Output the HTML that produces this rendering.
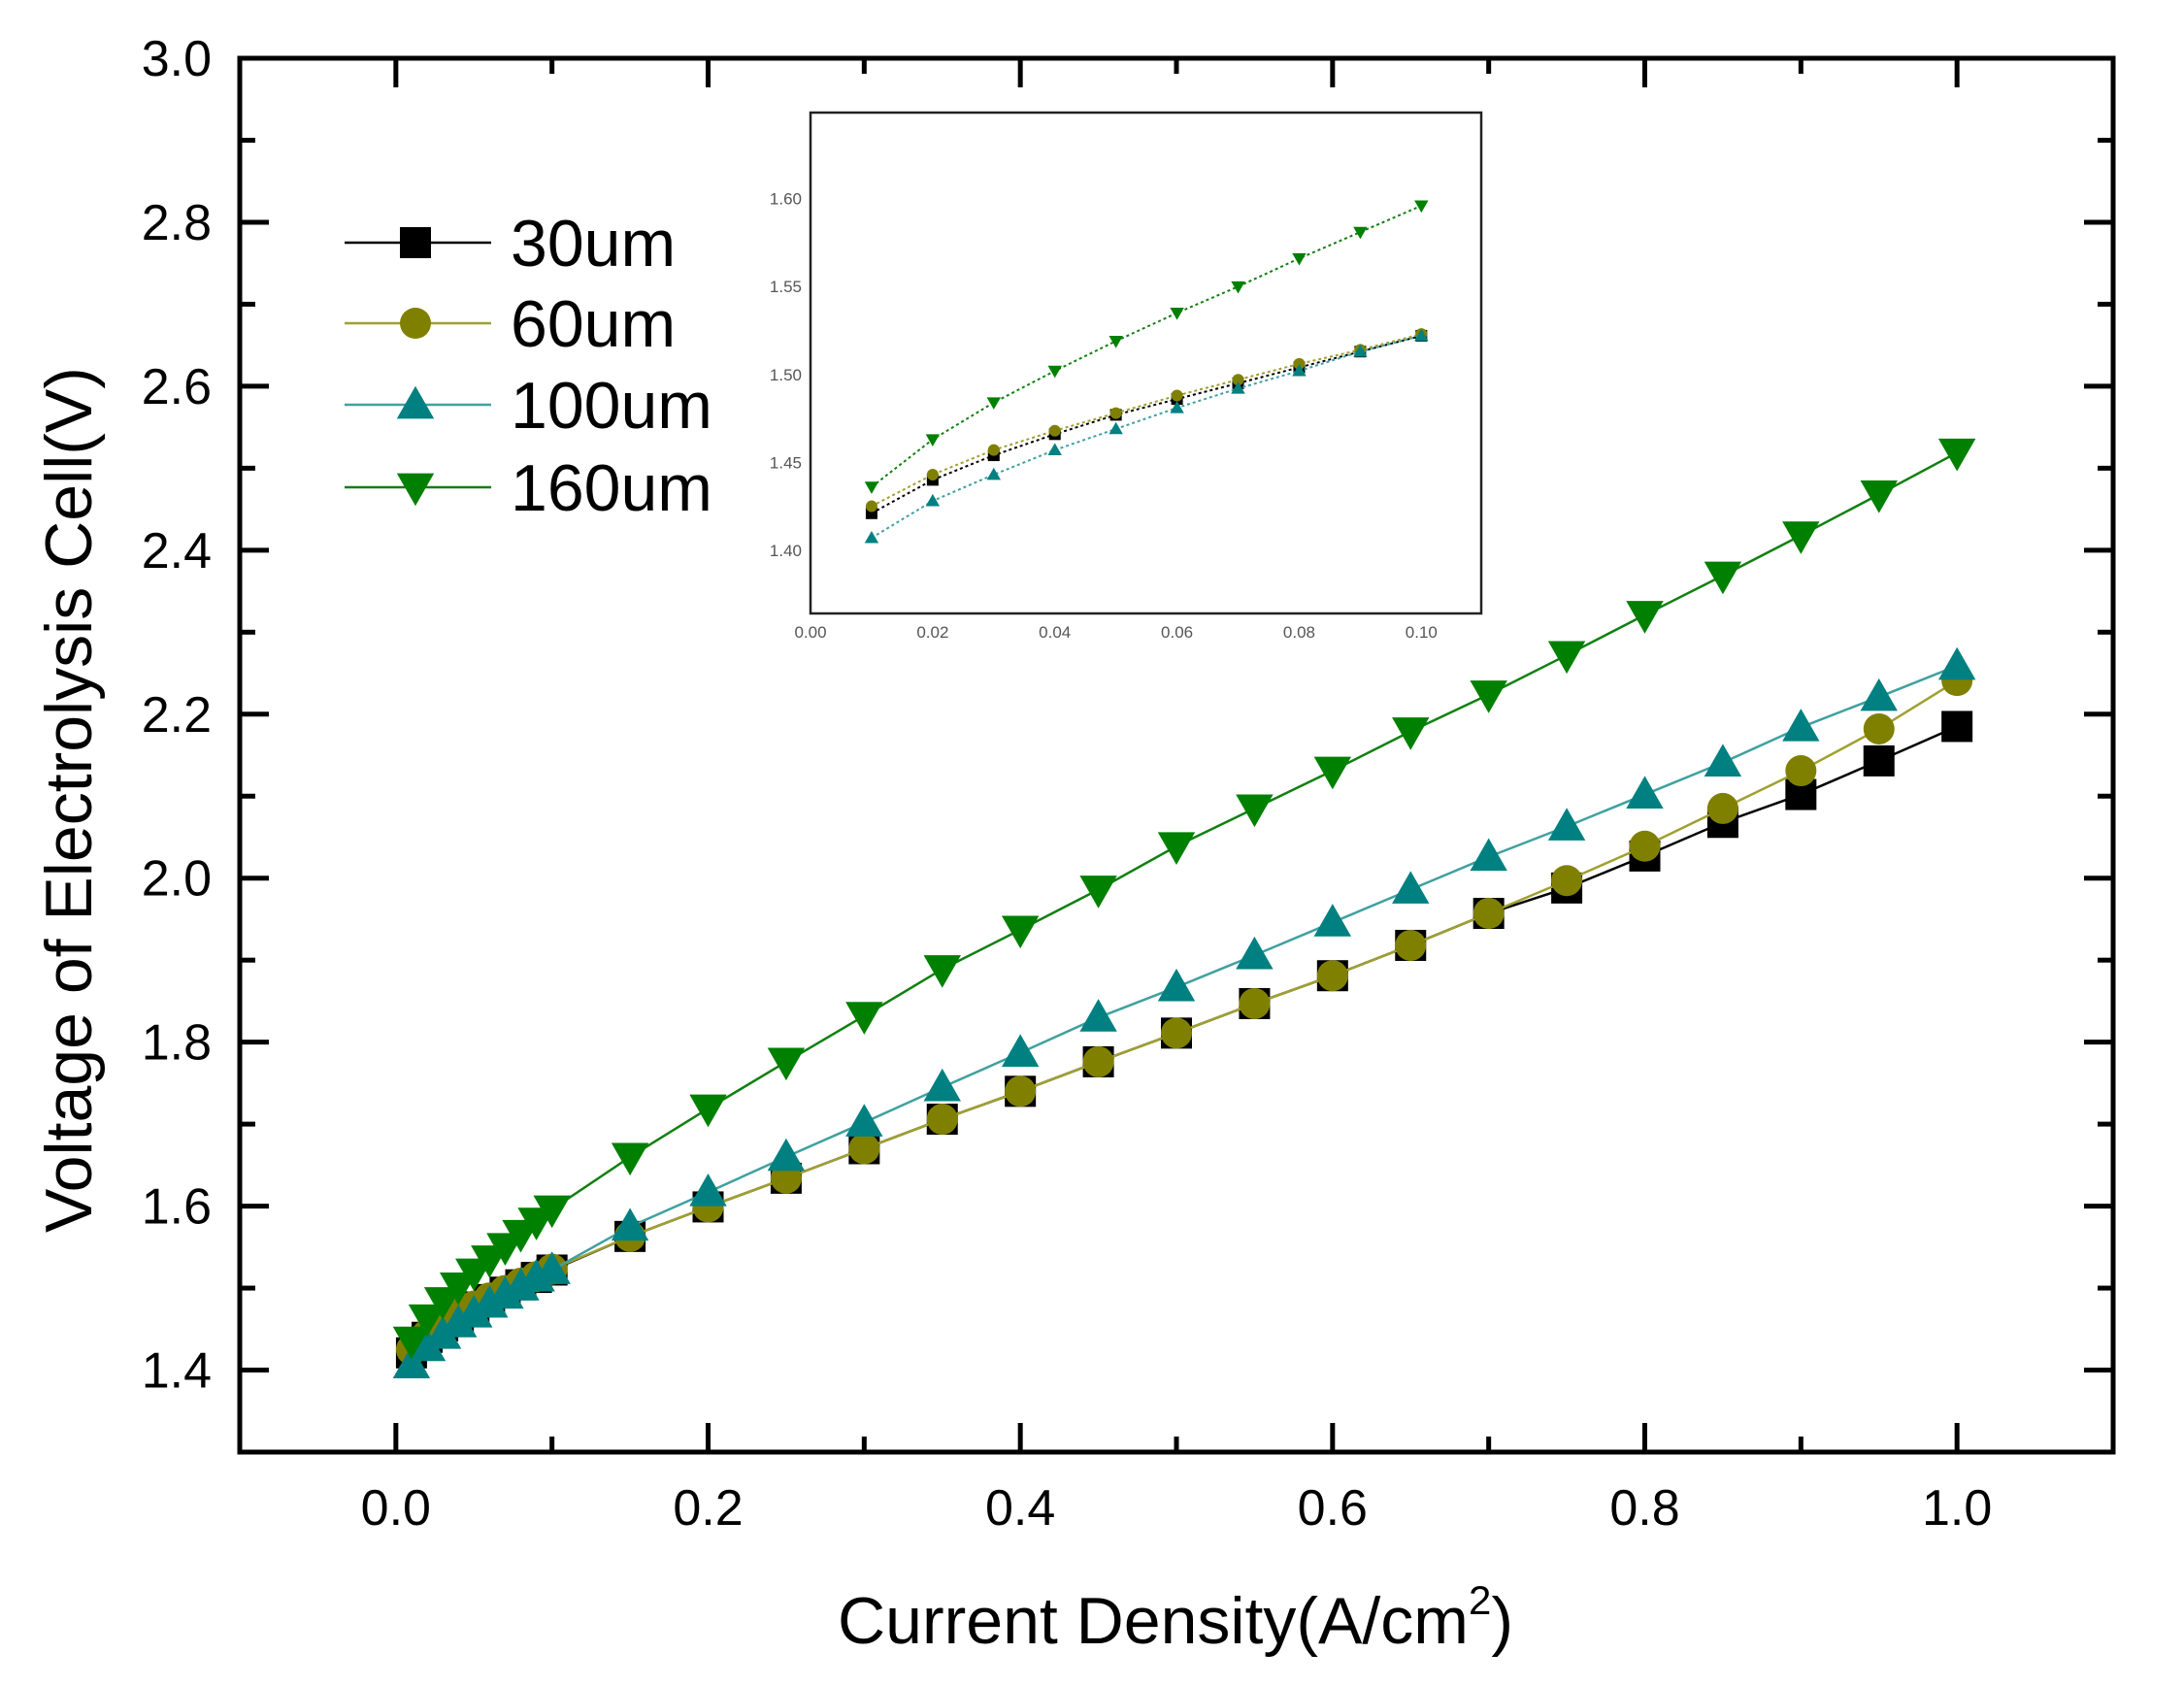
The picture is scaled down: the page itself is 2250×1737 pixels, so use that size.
<!DOCTYPE html>
<html><head><meta charset="utf-8"><style>
html,body{margin:0;padding:0;background:#fff;}
svg{display:block;font-family:"Liberation Sans",Arial,sans-serif;}
</style></head><body>
<svg id="chart" width="2250" height="1737" viewBox="0 0 2250 1737" xmlns="http://www.w3.org/2000/svg">
<rect x="0" y="0" width="2250" height="1737" fill="#fff"/>
<g id="main"></g>
<g id="inset"></g>
<g id="legend"></g>
<text x="94" y="824" font-size="68" text-anchor="middle" transform="rotate(-90 94 824)">Voltage of Electrolysis Cell(V)</text>
<text x="1211" y="1693" font-size="68" text-anchor="middle">Current Density(A/cm<tspan dy="-30" font-size="42">2</tspan><tspan dy="30">)</tspan></text>
</svg>
<script>
const xMain = [0.01,0.02,0.03,0.04,0.05,0.06,0.07,0.08,0.09,0.10,0.15,0.20,0.25,0.30,0.35,0.40,0.45,0.50,0.55,0.60,0.65,0.70,0.75,0.80,0.85,0.90,0.95,1.00];
const v30 = [1.421,1.440,1.454,1.466,1.477,1.486,1.495,1.504,1.513,1.522,1.563,1.599,1.634,1.670,1.706,1.740,1.776,1.811,1.847,1.881,1.918,1.957,1.988,2.027,2.068,2.102,2.143,2.185];
const v60 = [1.425,1.443,1.457,1.468,1.478,1.488,1.497,1.506,1.514,1.523,1.563,1.599,1.634,1.670,1.706,1.740,1.776,1.811,1.847,1.881,1.918,1.957,1.997,2.039,2.085,2.131,2.182,2.241];
const v100 = [1.407,1.428,1.443,1.457,1.469,1.481,1.492,1.502,1.513,1.522,1.575,1.617,1.660,1.702,1.745,1.787,1.830,1.867,1.906,1.946,1.986,2.026,2.063,2.102,2.141,2.184,2.221,2.259];
const v160 = [1.436,1.463,1.484,1.502,1.519,1.535,1.550,1.566,1.581,1.596,1.660,1.719,1.776,1.832,1.889,1.937,1.986,2.039,2.085,2.131,2.179,2.224,2.272,2.321,2.369,2.418,2.468,2.519];
const seriesNames = ["30um","60um","100um","160um"];
const xTicksMain = ["0.0","0.2","0.4","0.6","0.8","1.0"];
const yTicksMain = ["1.4","1.6","1.8","2.0","2.2","2.4","2.6","2.8","3.0"];
const xTicksInset = ["0.00","0.02","0.04","0.06","0.08","0.10"];
const yTicksInset = ["1.40","1.45","1.50","1.55","1.60"];

const NS = "http://www.w3.org/2000/svg";
function mk(tag, attrs, parent){const e=document.createElementNS(NS,tag);for(const k in attrs)e.setAttribute(k,attrs[k]);parent.appendChild(e);return e;}
const colors = ["#000000","#808000","#008080","#008000"];
const lineColors = ["#000000","#a0a030","#40a0a0","#108010"];
const shapes = ["square","circle","up","down"];
const allV = [v30,v60,v100,v160];

function marker(g, shape, cx, cy, s, color){
  let e;
  if(shape==="square") e=mk("rect",{x:cx-s/2,y:cy-s/2,width:s,height:s,fill:color},g);
  else if(shape==="circle") e=mk("circle",{cx:cx,cy:cy,r:s/2,fill:color},g);
  else if(shape==="up") e=mk("polygon",{points:`${cx},${cy-s*0.6} ${cx-s*0.6},${cy+s*0.45} ${cx+s*0.6},${cy+s*0.45}`,fill:color},g);
  else e=mk("polygon",{points:`${cx},${cy+s*0.6} ${cx-s*0.6},${cy-s*0.45} ${cx+s*0.6},${cy-s*0.45}`,fill:color},g);
  return e;
}

const M={l:247,r:2177,t:60,b:1496,x0:-0.1,x1:1.1,y0:1.3,y1:3.0};
const mx=v=>M.l+(v-M.x0)/(M.x1-M.x0)*(M.r-M.l);
const my=v=>M.b-(v-M.y0)/(M.y1-M.y0)*(M.b-M.t);
const gm=document.getElementById("main");
const frame=mk("rect",{x:M.l,y:M.t,width:M.r-M.l,height:M.b-M.t,fill:"none",stroke:"#000","stroke-width":5},gm);


for(let i=0;i<=11;i++){const v=i*0.1;const x=mx(v);const len=(i%2===0)?30:16;
  mk("line",{x1:x,y1:M.b,x2:x,y2:M.b-len,stroke:"#000","stroke-width":5},gm);
  mk("line",{x1:x,y1:M.t,x2:x,y2:M.t+len,stroke:"#000","stroke-width":5},gm);}
xTicksMain.forEach(t=>{const e=mk("text",{x:mx(parseFloat(t)),y:1571,"font-size":52,"text-anchor":"middle"},gm);e.textContent=t;
  
  });
for(let i=0;i<=16;i++){const v=1.4+i*0.1;const y=my(v);const len=(i%2===0)?30:16;
  mk("line",{x1:M.l,y1:y,x2:M.l+len,y2:y,stroke:"#000","stroke-width":5},gm);
  mk("line",{x1:M.r,y1:y,x2:M.r-len,y2:y,stroke:"#000","stroke-width":5},gm);}
yTicksMain.forEach(t=>{const e=mk("text",{x:218,y:my(parseFloat(t))+18,"font-size":52,"text-anchor":"end"},gm);e.textContent=t;
  
  });
allV.forEach((vals,si)=>{
  const g=mk("g",{},gm);
  
  
  mk("polyline",{points:vals.map((v,i)=>mx(xMain[i])+","+my(v)).join(" "),fill:"none",stroke:lineColors[si],"stroke-width":2.5},g);
  vals.forEach((v,i)=>{const p=marker(g,shapes[si],mx(xMain[i]),my(v),32,colors[si]);
    
    });
});

const I={l:835,r:1526,t:116,b:632,x0:0,x1:0.1098,y0:1.364,y1:1.649};
const ix=v=>I.l+(v-I.x0)/(I.x1-I.x0)*(I.r-I.l);
const iy=v=>I.b-(v-I.y0)/(I.y1-I.y0)*(I.b-I.t);
const gi=document.getElementById("inset");
mk("rect",{x:I.l,y:I.t,width:I.r-I.l,height:I.b-I.t,fill:"#fff",stroke:"#222","stroke-width":2.5},gi);
xTicksInset.forEach(t=>{const e=mk("text",{x:ix(parseFloat(t)),y:657,"font-size":17,"text-anchor":"middle",fill:"#555"},gi);e.textContent=t;
  
  });
yTicksInset.forEach(t=>{const e=mk("text",{x:826,y:iy(parseFloat(t))+6,"font-size":17,"text-anchor":"end",fill:"#555"},gi);e.textContent=t;
  
  });
allV.forEach((vals,si)=>{
  const g=mk("g",{},gi);
  
  
  mk("polyline",{points:vals.slice(0,10).map((v,i)=>ix(xMain[i])+","+iy(v)).join(" "),fill:"none",stroke:lineColors[si],"stroke-width":2,"stroke-dasharray":"3,3"},g);
  vals.slice(0,10).forEach((v,i)=>{const p=marker(g,shapes[si],ix(xMain[i]),iy(v),12,colors[si]);
    
    });
});

const gl=document.getElementById("legend");
const legY=[250,333,417,502];
seriesNames.forEach((n,si)=>{
  const g=mk("g",{},gl);
  
  
  mk("line",{x1:355,y1:legY[si],x2:506,y2:legY[si],stroke:lineColors[si],"stroke-width":2.5},g);
  marker(g,shapes[si],428,legY[si],32,colors[si]);
  const t=mk("text",{x:526,y:legY[si]+24,"font-size":68},g);t.textContent=n;
});
</script>
</body></html>
